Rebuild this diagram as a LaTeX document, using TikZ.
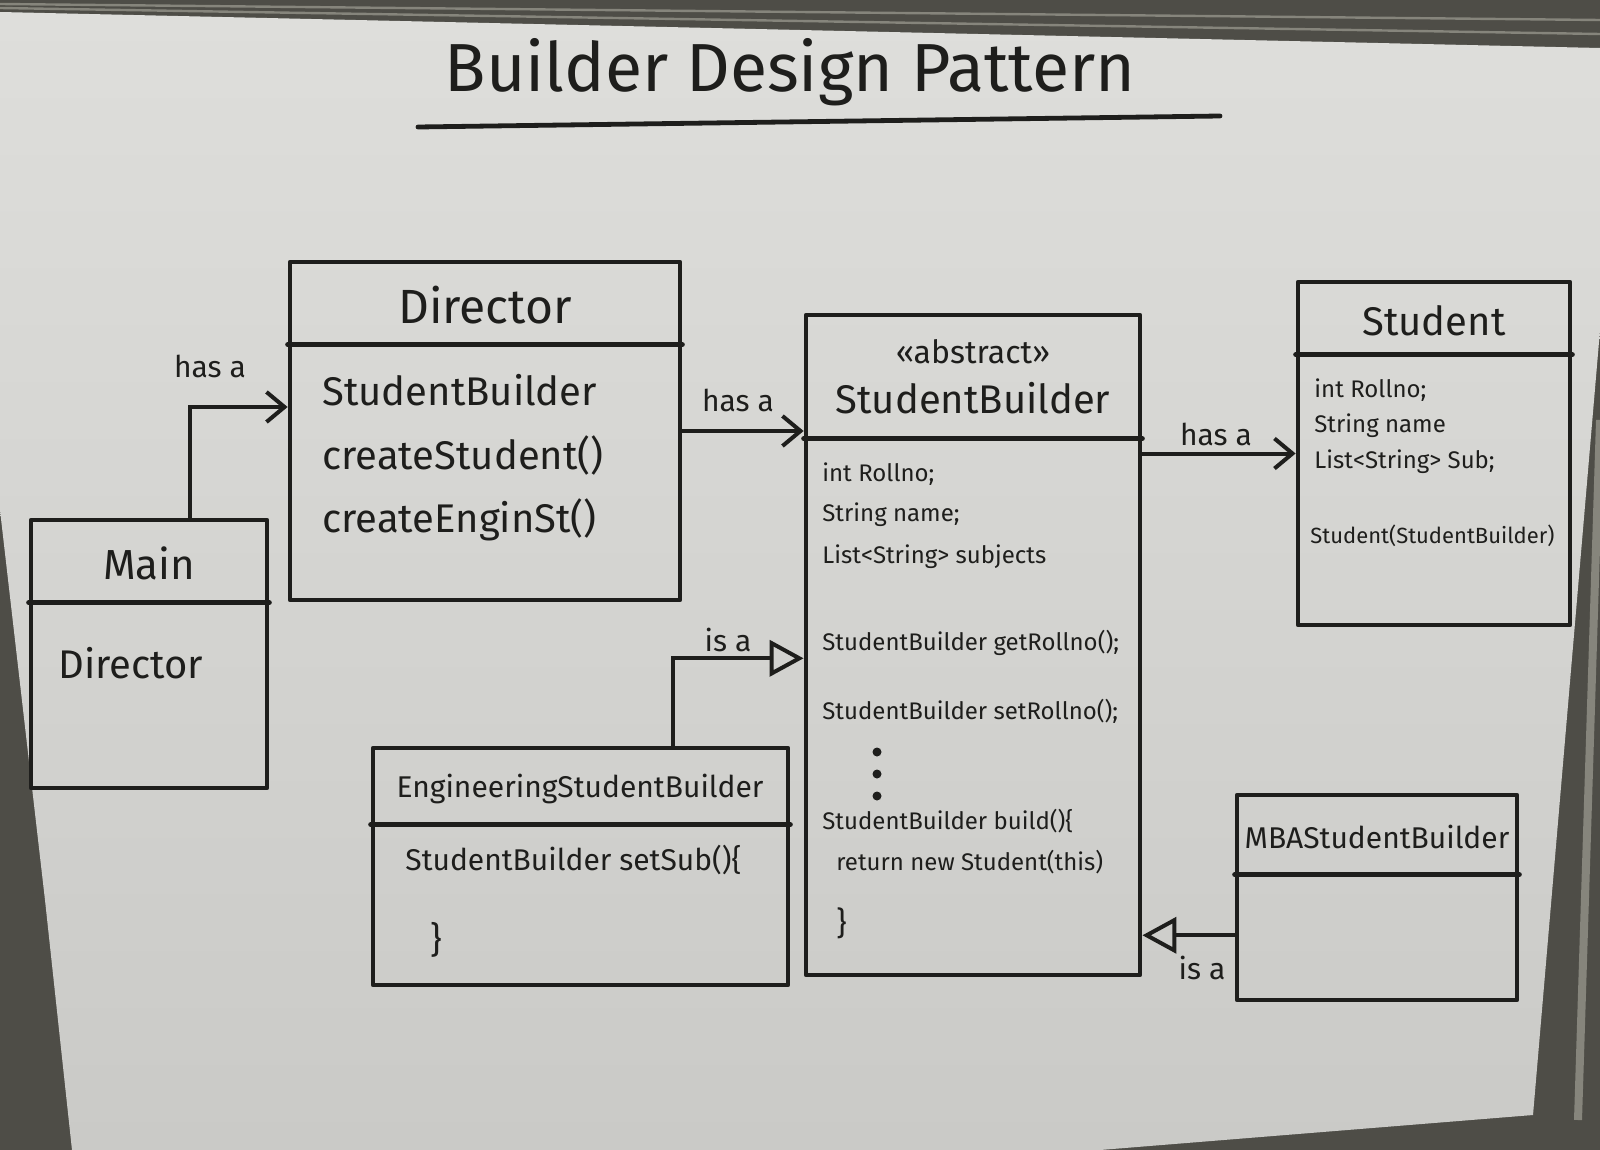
\documentclass[tikz,border=0pt]{standalone}
\usepackage{fontspec}
\setmainfont{Fira Sans}
\usetikzlibrary{arrows.meta,calc,fit}

\definecolor{ink}{HTML}{1E1E1C}
\definecolor{boardtop}{HTML}{DEDEDB}
\definecolor{boardbot}{HTML}{CACAC7}
\definecolor{framecol}{HTML}{4E4D47}
\definecolor{framelight}{HTML}{86857C}

\tikzset{
  inkline/.style={draw=ink, line width=2.4pt, line join=round, line cap=round},
  classbox/.style={inkline, inner sep=0pt},
  hasa/.style={draw=ink, line width=2pt, line cap=round,
    -{Straight Barb[length=9pt,width=15pt,line width=2pt]}},
  isa/.style={draw=ink, line width=2pt, line cap=round,
    -{Triangle[open,length=17pt,width=18pt,line width=2pt]}},
  lbl/.style={text=ink, inner sep=1pt, font=\fontsize{15}{18}\selectfont},
  cname/.style={text=ink, inner sep=0pt, font=\fontsize{#1}{#1}\selectfont},
  cname/.default=19,
  member/.style={text=ink, anchor=west, inner sep=0pt, font=\fontsize{#1}{#1}\selectfont},
  member/.default=12,
}

\begin{document}
\begin{tikzpicture}[x=0.5pt,y=-0.5pt]
\useasboundingbox (0,0) rectangle (1600,1150);

% whiteboard frame and surface
\fill[framecol] (0,0) rectangle (1600,1150);
\draw[framelight, line width=1.2pt] (0,4) -- (1600,20);
\draw[framelight, line width=1.2pt] (0,8) -- (1600,34);
\draw[framelight, line width=4pt] (1600,420) -- (1578,1120);
\shade[top color=boardtop, bottom color=boardbot]
  (0,12) -- (1600,48) -- (1600,330) -- (1533,1115) -- (1100,1150)
  -- (72,1150) -- (45,900) -- (0,510) -- cycle;

% title
\node[text=ink, inner sep=0pt, font=\fontsize{34}{40}\selectfont] (title) at (790,72) {Builder Design Pattern};
\draw[inkline] (418,127) -- (1220,116);

% class boxes
\node[classbox, fit={(290,262) (680,600)}] (dir) {};
\node[classbox, fit={(31,520) (267,788)}] (main) {};
\node[classbox, fit={(806,315) (1140,975)}] (sb) {};
\node[classbox, fit={(1298,282) (1570,625)}] (stu) {};
\node[classbox, fit={(373,748) (788,985)}] (eng) {};
\node[classbox, fit={(1237,795) (1517,1000)}] (mba) {};

% compartment separators
\draw[inkline] ($(dir.north west)+(0,85)$) -- ($(dir.north east)+(0,85)$);
\draw[inkline] ($(main.north west)+(0,85)$) -- ($(main.north east)+(0,85)$);
\draw[inkline] ($(sb.north west)+(0,126)$) -- ($(sb.north east)+(0,126)$);
\draw[inkline] ($(stu.north west)+(0,75)$) -- ($(stu.north east)+(0,75)$);
\draw[inkline] ($(eng.north west)+(0,79)$) -- ($(eng.north east)+(0,79)$);
\draw[inkline] ($(mba.north west)+(0,82)$) -- ($(mba.north east)+(0,82)$);

% Director
\node[cname=24] (dirName) at (485,305) {Director};
\node[member=20] (dirM1) at (322,390) {StudentBuilder};
\node[member=20] (dirM2) at (322,455) {createStudent()};
\node[member=20] (dirM3) at (322,520) {createEnginSt()};

% Main
\node[cname=21] (mainName) at (149,563) {Main};
\node[member=20] (mainM1) at (58,663) {Director};

% abstract StudentBuilder
\node[cname=16] (sbStereo) at (973,352) {«abstract»};
\node[cname=20] (sbName) at (973,398) {StudentBuilder};
\node[member] (sbF1) at (822,474) {int Rollno;};
\node[member] (sbF2) at (822,515) {String name;};
\node[member] (sbF3) at (822,557) {List<String> subjects};
\node[member] (sbM1) at (822,643) {StudentBuilder getRollno();};
\node[member] (sbM2) at (822,711) {StudentBuilder setRollno();};
\fill[ink] (877,752) circle[radius=4.5];
\fill[ink] (877,774) circle[radius=4.5];
\fill[ink] (877,796) circle[radius=4.5];
\node[member] (sbM3) at (822,821) {StudentBuilder build()\{};
\node[member] (sbM4) at (836,862) {return new Student(this)};
\node[member=16] (sbM5) at (836,923) {\}};

% Student
\node[cname=20] (stuName) at (1434,321) {Student};
\node[member=12] (stuF1) at (1314,390) {int Rollno;};
\node[member=12] (stuF2) at (1314,426) {String name};
\node[member=12] (stuF3) at (1314,462) {List<String> Sub;};
\node[member=11] (stuC) at (1310,536) {Student(StudentBuilder)};

% EngineeringStudentBuilder
\node[cname=15] (engName) at (580,789) {EngineeringStudentBuilder};
\node[member=15] (engM1) at (405,860) {StudentBuilder setSub()\{};
\node[member=18] (engM2) at (430,940) {\}};

% MBAStudentBuilder
\node[cname=15] (mbaName) at (1377,837) {MBAStudentBuilder};

% connection points on box sides
\coordinate (mainTop) at ($(main.north west)!0.67!(main.north east)$);
\coordinate (dirIn) at ($(dir.north west)!0.43!(dir.south west)$);
\coordinate (engTop) at ($(eng.north west)!0.72!(eng.north east)$);
\coordinate (sbIn) at ($(sb.north west)!0.52!(sb.south west)$);
\coordinate (mbaOut) at ($(mba.north west)!0.68!(mba.south west)$);

% has-a associations
\draw[hasa] (mainTop) |- (dirIn);
\node[lbl] (lblMain) at (210,366) {has a};
\draw[hasa] (dir.east) -- (dir.east -| sb.west);
\node[lbl] (lblDir) at (738,400) {has a};
\draw[hasa] (stu.west -| sb.east) -- (stu.west);
\node[lbl] (lblSb) at (1216,434) {has a};

% is-a generalisations
\draw[isa] (engTop) |- (sbIn);
\node[lbl] (lblEng) at (728,640) {is a};
\draw[isa] (mbaOut) -- (mbaOut -| sb.east);
\node[lbl] (lblMba) at (1202,968) {is a};
\end{tikzpicture}
\end{document}
